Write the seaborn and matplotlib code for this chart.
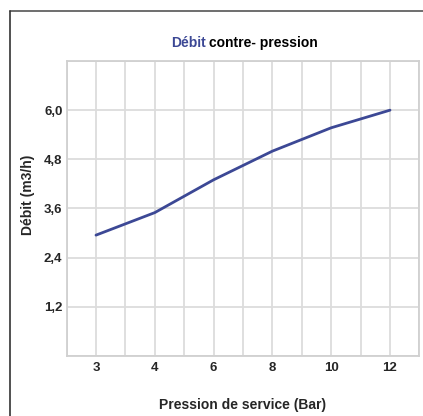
import matplotlib
matplotlib.use("Agg")
import matplotlib.pyplot as plt
import matplotlib.lines as mlines
from matplotlib.ticker import FixedLocator
import pandas as pd
import seaborn as sns

# Data
pressions = ["3", "4", "6", "8", "10", "12"]
debits = [2.95, 3.5, 4.3, 5.0, 5.57, 6.0]
y_ticks = [1.2, 2.4, 3.6, 4.8, 6.0]
y_tick_labels = ["1,2", "2,4", "3,6", "4,8", "6,0"]

df = pd.DataFrame({"Pression": pressions, "Debit": debits})

sns.set_style("white")
plt.rcParams["font.family"] = ["Liberation Sans", "DejaVu Sans"]

W, H = 423, 416
fig = plt.figure(figsize=(W / 100, H / 100), dpi=100)
ax = fig.add_axes([66.6 / W, 1 - 356 / H, (419.4 - 66.6) / W, (356 - 61) / H])

sns.lineplot(data=df, x="Pression", y="Debit", sort=False, color="#3c4895",
             linewidth=2.0, ax=ax)

ax.set_xlim(-0.5, 5.5)
ax.set_ylim(0, 7.2)
ax.set_xticks(range(len(pressions)))
ax.set_xticklabels(pressions, fontweight="bold", fontsize=9.5)
ax.xaxis.set_minor_locator(FixedLocator([i + 0.5 for i in range(-1, 6)]))
ax.set_yticks(y_ticks)
ax.set_yticklabels(y_tick_labels, fontweight="bold", fontsize=9.5)
ax.yaxis.set_minor_locator(FixedLocator([0, 7.2]))
ax.grid(True, which="both", color="#dcdcdc", linewidth=1.3)
ax.tick_params(axis="both", which="both", length=0)
ax.tick_params(axis="x", pad=4)
ax.tick_params(axis="y", pad=3)
for s in ax.spines.values():
    s.set_color("#d0d0d0")
    s.set_linewidth(1.3)
ax.set_xlabel("")
ax.set_ylabel("")

# axis labels
fig.text(243 / W, 1 - 405 / H, "Pression de service (Bar)", ha="center", va="center",
         fontsize=10, fontweight="bold")
fig.text(28 / W, 1 - 195 / H, "Débit (m3/h)", ha="center", va="center",
         rotation=90, fontsize=10, fontweight="bold")

# two-coloured title
renderer = fig.canvas.get_renderer()
t1 = fig.text(171 / W, 1 - 43 / H, "Débit", ha="left", va="center",
              fontsize=10, fontweight="bold", color="#3c4895")
x_end = t1.get_window_extent(renderer).x1
fig.text((x_end + 3.5) / W, 1 - 43 / H, "contre- pression", ha="left", va="center",
         fontsize=10, fontweight="bold", color="black")

# outer frame (top and left edges)
fig.add_artist(mlines.Line2D([9.5 / W, 1], [1 - 10.5 / H] * 2, color="#555555",
                             linewidth=1.2, transform=fig.transFigure))
fig.add_artist(mlines.Line2D([9.5 / W] * 2, [0, 1 - 10.5 / H], color="#333333",
                             linewidth=1.2, transform=fig.transFigure))

fig.savefig("out.png", dpi=100)
